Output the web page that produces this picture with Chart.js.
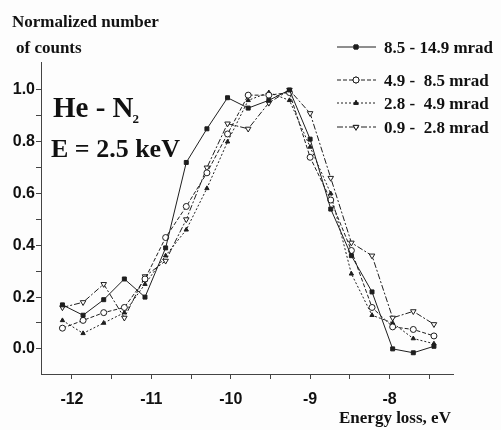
<!DOCTYPE html>
<html>
<head>
<meta charset="utf-8">
<script src="https://cdn.jsdelivr.net/npm/chart.js@4/dist/chart.umd.min.js"></script>
<style>
  html, body { margin: 0; padding: 0; background: #fdfdfd; }
  #wrap { width: 501px; height: 430px; }
</style>
</head>
<body>
<div id="wrap"><canvas id="chart" width="501" height="430"></canvas></div>
<script>
// Energy loss (eV) of the measured points
const energy = [-12.12, -11.86, -11.6, -11.34, -11.08, -10.82, -10.56, -10.3, -10.04, -9.78,
                -9.52, -9.26, -9.0, -8.74, -8.48, -8.22, -7.96, -7.7, -7.44];

// Normalized counts per scattering angle range
const s85_149 = [0.17, 0.13, 0.19, 0.27, 0.20, 0.39, 0.72, 0.85, 0.97, 0.93,
                 0.96, 1.00, 0.81, 0.54, 0.36, 0.22, 0.00, -0.015, 0.01];
const s49_85  = [0.08, 0.11, 0.14, 0.16, 0.27, 0.43, 0.55, 0.68, 0.83, 0.98,
                 0.98, 0.99, 0.74, 0.575, 0.38, 0.16, 0.085, 0.075, 0.05];
const s28_49  = [0.11, 0.06, 0.10, 0.14, 0.25, 0.36, 0.46, 0.62, 0.80, 0.96,
                 0.99, 0.96, 0.78, 0.60, 0.29, 0.13, 0.10, 0.04, 0.02];
const s09_28  = [0.16, 0.18, 0.25, 0.12, 0.28, 0.34, 0.50, 0.70, 0.87, 0.85,
                 0.95, 1.00, 0.91, 0.66, 0.41, 0.36, 0.12, 0.145, 0.095];

const seriesLabels = ['8.5 - 14.9 mrad', '4.9 -  8.5 mrad', '2.8 -  4.9 mrad', '0.9 -  2.8 mrad'];

const xTicks = [-12, -11.5, -11, -10.5, -10, -9.5, -9, -8.5, -8, -7.5];
const yTicks = [0, 0.1, 0.2, 0.3, 0.4, 0.5, 0.6, 0.7, 0.8, 0.9, 1.0];

const ink = '#1e1e1e';

function pts(vals) {
    return vals.map((v, i) => ({ x: energy[i], y: v }));
}

const datasets = [
    { label: seriesLabels[0], data: pts(s85_149), borderDash: [],
      pointStyle: 'rect', pointRadius: 2.8, pointBackgroundColor: ink, rotation: 0 },
    { label: seriesLabels[1], data: pts(s49_85), borderDash: [4, 2],
      pointStyle: 'circle', pointRadius: 3, pointBackgroundColor: '#fff', rotation: 0 },
    { label: seriesLabels[2], data: pts(s28_49), borderDash: [2, 2],
      pointStyle: 'triangle', pointRadius: 2.5, pointBackgroundColor: ink, rotation: 0 },
    { label: seriesLabels[3], data: pts(s09_28), borderDash: [6, 2, 2, 2],
      pointStyle: 'triangle', pointRadius: 3.2, pointBackgroundColor: '#fff', rotation: 180 }
].map(d => Object.assign(d, {
    borderColor: ink,
    borderWidth: 1,
    pointBorderColor: ink,
    pointBorderWidth: 1,
    showLine: true,
    tension: 0,
    fill: false
}));

// Titles, annotations and the legend box drawn on top
const textPlugin = {
    id: 'texts',
    afterDraw(chart) {
        const ctx = chart.ctx;
        ctx.save();
        ctx.fillStyle = '#111';
        ctx.textAlign = 'left';
        ctx.textBaseline = 'alphabetic';

        ctx.font = 'bold 17px "Liberation Serif"';
        ctx.fillText('Normalized number', 12, 27);
        ctx.fillText('of counts', 16, 53);

        ctx.font = 'bold 29px "Liberation Serif"';
        ctx.fillText('He - N', 53, 117);
        const w = ctx.measureText('He - N').width;
        ctx.font = 'bold 13px "Liberation Serif"';
        ctx.fillText('2', 53 + w - 1, 123);

        ctx.font = 'bold 26px "Liberation Serif"';
        ctx.fillText('E = 2.5 keV', 51, 157);

        ctx.font = 'bold 17px "Liberation Serif"';
        ctx.fillText('Energy loss, eV', 339, 423);

        // legend
        const rows = [47, 80, 103, 127];
        chart.data.datasets.forEach((ds, i) => {
            const y = rows[i];
            ctx.strokeStyle = ink;
            ctx.lineWidth = 1;
            ctx.setLineDash(ds.borderDash);
            ctx.beginPath();
            ctx.moveTo(337, y);
            ctx.lineTo(376, y);
            ctx.stroke();
            ctx.setLineDash([]);
            Chart.helpers.drawPoint(ctx, {
                pointStyle: ds.pointStyle,
                radius: ds.pointRadius,
                rotation: ds.rotation,
                borderWidth: 1
            }, 356, y);
            ctx.fillStyle = ds.pointBackgroundColor;
            ctx.fill();
            ctx.stroke();
            ctx.fillStyle = '#111';
            ctx.font = 'bold 17px "Liberation Serif"';
            ctx.fillText(ds.label, 384, y + 6);
        });
        ctx.restore();
    }
};

new Chart(document.getElementById('chart'), {
    type: 'scatter',
    data: { datasets: datasets },
    options: {
        responsive: false,
        animation: false,
        layout: { padding: { top: 62, right: 48, left: 0, bottom: 0 } },
        plugins: { legend: { display: false }, tooltip: { enabled: false } },
        scales: {
            x: {
                type: 'linear',
                min: -12.39,
                max: -7.2,
                afterFit(s) { s.height = 56; },
                afterBuildTicks(s) { s.ticks = xTicks.map(v => ({ value: v })); },
                ticks: {
                    color: '#111',
                    padding: 11,
                    font: { family: '"Liberation Sans"', size: 16, weight: 'bold' },
                    callback: v => Number.isInteger(v) ? String(v) : ''
                },
                grid: { drawOnChartArea: false, color: '#444', tickLength: 5 },
                border: { color: '#444', width: 1 }
            },
            y: {
                type: 'linear',
                min: -0.097,
                max: 1.108,
                afterFit(s) { s.width = 41; },
                afterBuildTicks(s) { s.ticks = yTicks.map(v => ({ value: v })); },
                ticks: {
                    color: '#111',
                    padding: 1,
                    font: { family: '"Liberation Sans"', size: 16, weight: 'bold' },
                    callback: v => Math.round(v * 10) % 2 === 0 ? v.toFixed(1) : ''
                },
                grid: { drawOnChartArea: false, color: '#444', tickLength: 5 },
                border: { color: '#444', width: 1 }
            }
        }
    },
    plugins: [textPlugin]
});
</script>
</body>
</html>
